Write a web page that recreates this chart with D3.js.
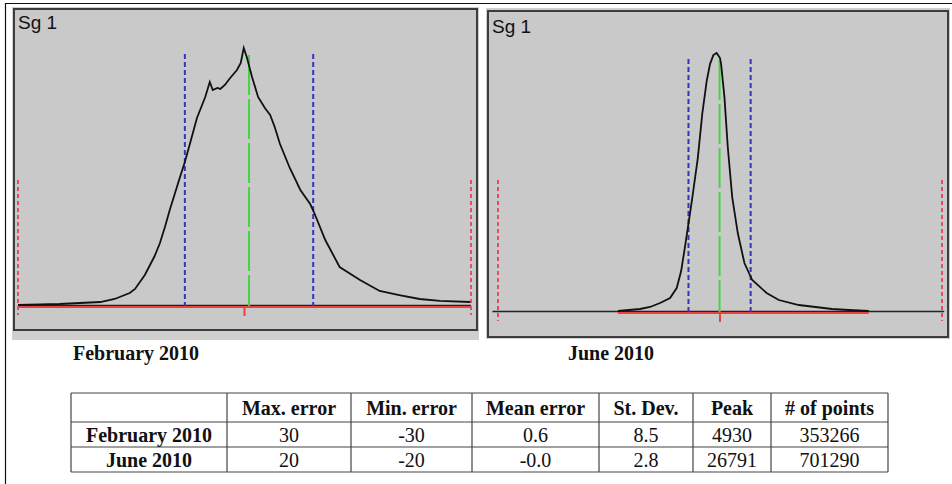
<!DOCTYPE html>
<html>
<head>
<meta charset="utf-8">
<script src="https://cdn.jsdelivr.net/npm/d3@7"></script>
<style>
  body { margin: 0; background: #fff; }
  svg { display: block; }
</style>
</head>
<body>
<div id="chart"></div>
<script>
const W = 952, H = 484;

const febErr   = [-30, -27.1, -24.5, -21.8, -19.1, -17.2, -15.2, -14.5, -13.2, -11.9, -11.2, -10.5, -9.9, -9.2, -8.5, -7.9, -7.2, -6.3, -5.2, -4.6, -4.2, -3.6, -3.2, -2.6, -1.9, -1.0, -0.5, -0.1, 0.3, 1.0, 1.8, 2.7, 3.4, 4.0, 4.7, 6.0, 7.4, 8.7, 9.3, 10.7, 12.6, 15.3, 17.9, 20.5, 23.2, 25.9, 29.9];
const febCount = [19, 29, 38, 57, 76, 134, 248, 325, 592, 955, 1204, 1529, 1835, 2159, 2484, 2752, 3115, 3593, 3994, 4281, 4128, 4166, 4147, 4223, 4357, 4510, 4644, 4930, 4758, 4376, 3994, 3784, 3650, 3421, 3096, 2637, 2217, 1949, 1758, 1261, 745, 497, 287, 210, 134, 96, 76];

const junErr   = [-9.2, -7.2, -6.3, -5.4, -4.5, -3.9, -3.5, -3.2, -2.9, -2.5, -2.0, -1.6, -1.2, -0.9, -0.6, -0.3, 0.0, 0.1, 0.4, 0.7, 1.1, 1.6, 2.2, 2.9, 4.2, 5.3, 7.1, 10.1, 11.6, 13.4];
const junCount = [103, 310, 517, 931, 1448, 2482, 4239, 6410, 8686, 11788, 15924, 20473, 23885, 25643, 26574, 26791, 26264, 25643, 22231, 17061, 11891, 8169, 5067, 3309, 1965, 1241, 724, 310, 207, 103];

// summary table
const colHeaders = ["", "Max. error", "Min. error", "Mean error", "St. Dev.", "Peak", "# of points"];
const rowLabels  = ["February 2010", "June 2010"];
const maxError   = [30, 20];
const minError   = [-30, -20];
const meanError  = [0.6, -0.04];
const stdDev     = [8.5, 2.8];
const peak       = [4930, 26791];
const numPoints  = [353266, 701290];
const axisExtent = [[-30, 30], [-20.5, 20.2]];

// window geometry
const panels = [
  {outer: [12, 7, 467, 333], plot: [14, 9, 463, 321], xr: [18, 471], base: 306, top: 48, label: [18, 29], caption: 73},
  {outer: [486, 8, 464, 331], plot: [488, 11, 460, 326], xr: [498, 942], base: 312, top: 53, label: [492, 33], caption: 568}
];
const curves = [[febErr, febCount], [junErr, junCount]];

const svg = d3.select("#chart").append("svg")
  .attr("width", W).attr("height", H);

// outer frame of the figure
svg.append("line").attr("x1", 5).attr("x2", W).attr("y1", 3.5).attr("y2", 3.5)
  .attr("stroke", "#111").attr("stroke-width", 1.2);
svg.append("line").attr("x1", 5.5).attr("x2", 5.5).attr("y1", 3).attr("y2", H)
  .attr("stroke", "#111").attr("stroke-width", 1.2);

panels.forEach((p, i) => drawPanel(p, i));

function drawPanel(p, i) {
  const g = svg.append("g");
  const [ex, ey] = [curves[i][0], curves[i][1]];
  const pts = ex.map((e, k) => [e, ey[k]]);

  const x = d3.scaleLinear().domain([minError[i], maxError[i]]).range(p.xr);
  const y = d3.scaleLinear().domain([0, peak[i]]).range([p.base, p.top]);

  g.append("rect").attr("x", p.outer[0]).attr("y", p.outer[1])
    .attr("width", p.outer[2]).attr("height", p.outer[3])
    .attr("fill", "#d0cfcc");
  g.append("rect").attr("x", p.plot[0]).attr("y", p.plot[1])
    .attr("width", p.plot[2]).attr("height", p.plot[3])
    .attr("fill", "#c9c9c9").attr("stroke", "#3c3c3c").attr("stroke-width", 2);

  g.append("text").attr("x", p.label[0]).attr("y", p.label[1])
    .attr("font-family", "Liberation Sans, Arial, sans-serif")
    .attr("font-size", 19).attr("fill", "#111").text("Sg 1");

  // x axis and baseline under the data
  g.append("line")
    .attr("x1", x(axisExtent[i][0])).attr("x2", x(axisExtent[i][1]))
    .attr("y1", y(0) - 0.5).attr("y2", y(0) - 0.5)
    .attr("stroke", "#222").attr("stroke-width", 1.5);
  g.append("line")
    .attr("x1", x(ex[0])).attr("x2", x(ex[ex.length - 1]))
    .attr("y1", y(0) + 1).attr("y2", y(0) + 1)
    .attr("stroke", "#e8433f").attr("stroke-width", 2);

  // min / max error
  g.selectAll(".lim").data([minError[i], maxError[i]]).join("line")
    .attr("x1", d => x(d)).attr("x2", d => x(d))
    .attr("y1", 180).attr("y2", y(0) + 9)
    .attr("stroke", "#e0506a").attr("stroke-width", 2)
    .attr("stroke-dasharray", "4,3");
  // zero tick
  g.append("line").attr("x1", x(0)).attr("x2", x(0))
    .attr("y1", y(0)).attr("y2", y(0) + 10)
    .attr("stroke", "#e8433f").attr("stroke-width", 2);

  // mean +/- std
  g.selectAll(".sd").data([meanError[i] - stdDev[i], meanError[i] + stdDev[i]]).join("line")
    .attr("x1", d => x(d)).attr("x2", d => x(d))
    .attr("y1", p.top + 6).attr("y2", y(0))
    .attr("stroke", "#3434c4").attr("stroke-width", 2)
    .attr("stroke-dasharray", "5,3");
  // mean
  g.append("line").attr("x1", x(meanError[i])).attr("x2", x(meanError[i]))
    .attr("y1", p.top + 7).attr("y2", y(0))
    .attr("stroke", "#44d444").attr("stroke-width", 2)
    .attr("stroke-dasharray", "40,4");

  g.append("path").datum(pts)
    .attr("d", d3.line().x(d => x(d[0])).y(d => y(d[1])))
    .attr("fill", "none").attr("stroke", "#111").attr("stroke-width", 1.8);

  svg.append("text").attr("x", p.caption).attr("y", 360)
    .attr("font-family", "Liberation Serif, Times New Roman, serif")
    .attr("font-weight", "bold").attr("font-size", 20).attr("fill", "#111")
    .text(rowLabels[i]);
}

// table
const colX = [71, 227, 351, 472, 599, 693, 771, 888];
const rowY = [393, 422, 447, 472];
const tg = svg.append("g");
colX.forEach(cx => tg.append("line").attr("x1", cx).attr("x2", cx)
  .attr("y1", rowY[0]).attr("y2", rowY[3]).attr("stroke", "#444").attr("stroke-width", 1.2));
rowY.forEach(ry => tg.append("line").attr("x1", colX[0]).attr("x2", colX[7])
  .attr("y1", ry).attr("y2", ry).attr("stroke", "#444").attr("stroke-width", 1.2));

const rows = rowLabels.map((lab, i) => [lab, maxError[i], minError[i], meanError[i].toFixed(1),
  stdDev[i].toFixed(1), peak[i], numPoints[i]]);
const cells = [];
colHeaders.forEach((h, c) => cells.push({r: 0, c, t: h, bold: true}));
rows.forEach((row, r) => row.forEach((v, c) => cells.push({r: r + 1, c, t: String(v), bold: c === 0})));

tg.selectAll("text").data(cells).join("text")
  .attr("x", d => (colX[d.c] + colX[d.c + 1]) / 2)
  .attr("y", d => (rowY[d.r] + rowY[d.r + 1]) / 2 + 7)
  .attr("text-anchor", "middle")
  .attr("font-family", "Liberation Serif, Times New Roman, serif")
  .attr("font-size", 20)
  .attr("font-weight", d => d.bold ? "bold" : "normal")
  .attr("fill", "#111")
  .text(d => d.t);
</script>
</body>
</html>
